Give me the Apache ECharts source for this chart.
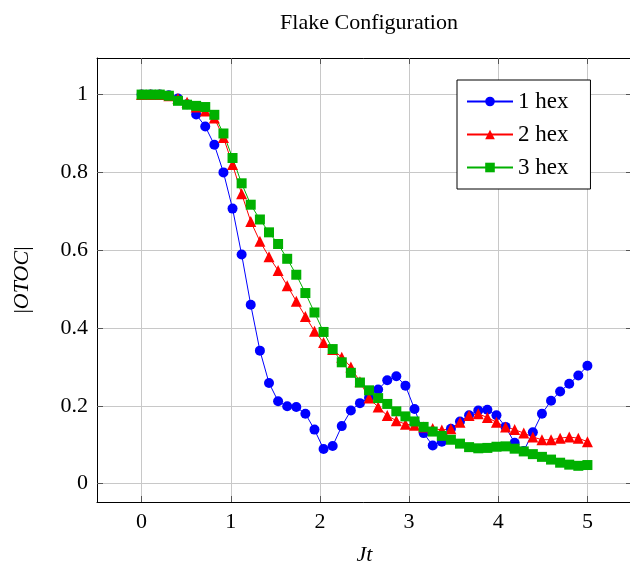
<!DOCTYPE html>
<html style="height: 100%">
<head>
    <meta charset="utf-8">
    <script type="text/javascript" src="https://cdn.jsdelivr.net/npm/echarts@6/dist/echarts.min.js"></script>
</head>
<body style="height: 100%; margin: 0; background: #fff">
<div id="container" style="width: 630px; height: 571px"></div>
<script type="text/javascript">
    // time samples Jt (50 points from 0 to 5)
    var jt = [0, 0.102, 0.204, 0.306, 0.408, 0.510, 0.612, 0.714, 0.816, 0.918,
        1.020, 1.122, 1.224, 1.327, 1.429, 1.531, 1.633, 1.735, 1.837, 1.939,
        2.041, 2.143, 2.245, 2.347, 2.449, 2.551, 2.653, 2.755, 2.857, 2.959,
        3.061, 3.163, 3.265, 3.367, 3.469, 3.571, 3.673, 3.776, 3.878, 3.980,
        4.082, 4.184, 4.286, 4.388, 4.490, 4.592, 4.694, 4.796, 4.898, 5.000];

    var hex1 = [1.0, 1.0, 1.0, 0.998, 0.99, 0.975, 0.949, 0.918, 0.871, 0.80,
        0.707, 0.589, 0.46, 0.342, 0.259, 0.212, 0.199, 0.197, 0.18, 0.139,
        0.089, 0.097, 0.148, 0.188, 0.207, 0.221, 0.242, 0.266, 0.276, 0.252,
        0.192, 0.130, 0.098, 0.108, 0.141, 0.16, 0.176, 0.188, 0.19, 0.176,
        0.146, 0.105, 0.084, 0.132, 0.18, 0.213, 0.237, 0.257, 0.278, 0.303];

    var hex2 = [1.0, 1.0, 1.0, 0.997, 0.99, 0.98, 0.968, 0.958, 0.94, 0.89,
        0.82, 0.745, 0.674, 0.623, 0.583, 0.548, 0.509, 0.469, 0.43, 0.392,
        0.363, 0.345, 0.325, 0.30, 0.262, 0.22, 0.197, 0.175, 0.162, 0.153,
        0.15, 0.146, 0.142, 0.138, 0.141, 0.158, 0.175, 0.18, 0.17, 0.158,
        0.146, 0.139, 0.13, 0.12, 0.113, 0.113, 0.117, 0.12, 0.117, 0.108];

    var hex3 = [1.0, 1.0, 1.0, 0.997, 0.984, 0.974, 0.971, 0.968, 0.948, 0.90,
        0.837, 0.772, 0.717, 0.679, 0.646, 0.616, 0.578, 0.537, 0.49, 0.44,
        0.39, 0.346, 0.312, 0.285, 0.26, 0.24, 0.22, 0.205, 0.186, 0.173,
        0.16, 0.146, 0.134, 0.123, 0.113, 0.103, 0.094, 0.091, 0.092, 0.095,
        0.096, 0.09, 0.083, 0.076, 0.069, 0.062, 0.054, 0.049, 0.046, 0.048];

    var xTicks = [0, 1, 2, 3, 4, 5];
    var yTicks = [0, 0.2, 0.4, 0.6, 0.8, 1];
    var seriesNames = ['1 hex', '2 hex', '3 hex'];

    var font = 'Liberation Serif';
    var dom = document.getElementById("container");
    var myChart = echarts.init(dom, null, {renderer: 'canvas'});

    function pairs(ys) {
        return ys.map(function (y, i) {
            return [jt[i], y];
        });
    }

    // frame axes (top / right) only carry the inward ticks
    function frameAxis(pos, min, max, ticks) {
        return {
            type: 'value', position: pos, min: min, max: max,
            axisLine: {show: true, onZero: false, lineStyle: {color: '#000', width: 1}},
            axisTick: {show: true, inside: true, length: 6, customValues: ticks, lineStyle: {color: '#555'}},
            axisLabel: {show: false},
            splitLine: {show: false}
        };
    }

    var option = {
        animation: false,
        title: {
            text: 'Flake Configuration',
            left: 364,
            top: 7,
            textAlign: 'center',
            textStyle: {fontFamily: font, fontWeight: 'normal', fontSize: 22, color: '#000'}
        },
        grid: {left: 97, top: 58, right: -2, bottom: 69, outerBoundsMode: 'none'},
        legend: {
            orient: 'vertical',
            left: 457,
            top: 80,
            data: seriesNames,
            backgroundColor: '#fff',
            borderColor: '#000',
            borderWidth: 1,
            borderRadius: 0,
            padding: [10, 22, 10, 9],
            itemWidth: 46,
            itemHeight: 12,
            itemGap: 10,
            textStyle: {fontFamily: font, fontSize: 23, lineHeight: 22, color: '#000'}
        },
        xAxis: [{
            type: 'value', min: -0.5, max: 5.5,
            name: 'Jt', nameLocation: 'middle', nameGap: 42,
            nameTextStyle: {fontFamily: font, fontStyle: 'italic', fontSize: 22, color: '#000'},
            axisLine: {show: true, onZero: false, lineStyle: {color: '#000', width: 1}},
            axisTick: {show: true, inside: true, length: 6, customValues: xTicks, lineStyle: {color: '#555'}},
            axisLabel: {customValues: xTicks, margin: 9, fontFamily: font, fontSize: 22, color: '#000'},
            splitLine: {show: true, lineStyle: {color: '#c8c8c8', width: 1}}
        }, frameAxis('top', -0.5, 5.5, xTicks)],
        yAxis: [{
            type: 'value', min: -0.047, max: 1.094,
            name: '{n||}{i|OTOC}{n||}', nameLocation: 'middle', nameGap: 64,
            nameTextStyle: {
                fontFamily: font, fontSize: 22, color: '#000',
                rich: {
                    n: {fontFamily: font, fontSize: 22, color: '#000'},
                    i: {fontFamily: font, fontSize: 22, fontStyle: 'italic', color: '#000'}
                }
            },
            axisLine: {show: true, onZero: false, lineStyle: {color: '#000', width: 1}},
            axisTick: {show: true, inside: true, length: 6, customValues: yTicks, lineStyle: {color: '#555'}},
            axisLabel: {customValues: yTicks, margin: 9, fontFamily: font, fontSize: 22, color: '#000'},
            splitLine: {show: true, lineStyle: {color: '#c8c8c8', width: 1}}
        }, frameAxis('right', -0.047, 1.094, yTicks)],
        series: [
            {
                name: seriesNames[0], type: 'line', data: pairs(hex1),
                symbol: 'circle', symbolSize: 10, showAllSymbol: true,
                itemStyle: {color: '#0000ff'},
                lineStyle: {color: '#0000ff', width: 1}
            },
            {
                name: seriesNames[1], type: 'line', data: pairs(hex2),
                symbol: 'triangle', symbolSize: 11, showAllSymbol: true,
                itemStyle: {color: '#ff0000'},
                lineStyle: {color: '#ff0000', width: 1}
            },
            {
                name: seriesNames[2], type: 'line', data: pairs(hex3),
                symbol: 'rect', symbolSize: 10, showAllSymbol: true,
                itemStyle: {color: '#00b000'},
                lineStyle: {color: '#00b000', width: 1}
            }
        ]
    };

    myChart.setOption(option);
</script>
</body>
</html>
